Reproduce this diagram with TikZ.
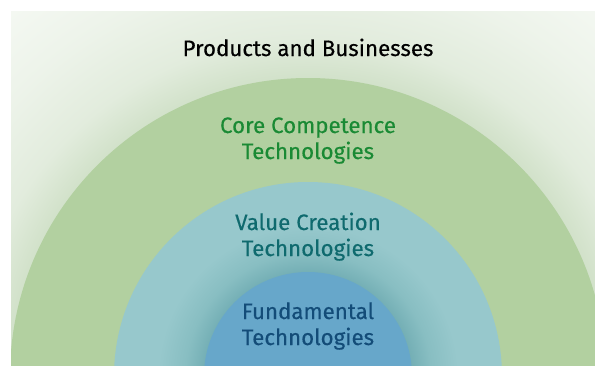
\documentclass[tikz,border=0pt]{standalone}
\usepackage{fontspec}
\setmainfont{Fira Sans}[FakeBold=0.3]
\definecolor{bglight}{HTML}{F4F8F2}
\definecolor{bgmid}{HTML}{E2ECDD}
\definecolor{bgdark}{HTML}{D1E1C9}
\definecolor{outergreen}{HTML}{B2D0A0}
\definecolor{lightblue}{HTML}{97C8CC}
\definecolor{tealhalo}{HTML}{74AFB5}
\definecolor{tealmid}{HTML}{88BEC2}
\definecolor{darkblue}{HTML}{67A7CA}
\definecolor{txtgreen}{HTML}{1A8A34}
\definecolor{txtteal}{HTML}{0F6A6E}
\definecolor{txtnavy}{HTML}{134C78}
\pgfdeclareradialshading{bghalo}{\pgfpoint{0bp}{0bp}}{%
  color(0bp)=(bgdark); color(15.8bp)=(bgdark); color(18bp)=(bgmid);
  color(21.5bp)=(bglight!60!bgmid); color(25bp)=(bglight); color(50bp)=(bglight)}
\pgfdeclareradialshading{bluehalo}{\pgfpoint{0bp}{0bp}}{%
  color(0bp)=(tealhalo); color(17.3bp)=(tealhalo); color(20.5bp)=(tealmid);
  color(25bp)=(lightblue); color(50bp)=(lightblue)}
\tikzset{
  lbl/.style={anchor=base, inner sep=0pt, font=\fontsize{22.3}{27}\selectfont},
}
\begin{document}
\begin{tikzpicture}[x=1pt, y=-1pt]
  \useasboundingbox (0,0) rectangle (595,365);
  \fill[white] (0,0) rectangle (595,365);
  \coordinate (c) at (308,376);
  \begin{scope}
    \clip (11,11) rectangle (595,365);
    \fill[bglight] (11,11) rectangle (595,365);
    \shade[shading=bghalo] (c) circle (470pt);
    \fill[outergreen] (c) circle (298pt);
    \fill[lightblue] (c) circle (194pt);
    \shade[shading=bluehalo] (c) circle (150pt);
    \fill[darkblue] (c) circle (104pt);
  \end{scope}
  \node[lbl, text=black] (prod) at (308,56) {Products and Businesses};
  \node[lbl, text=txtgreen] (core1) at (308,133) {Core Competence};
  \node[lbl, text=txtgreen] (core2) at (308,159) {Technologies};
  \node[lbl, text=txtteal] (val1) at (308,230) {Value Creation};
  \node[lbl, text=txtteal] (val2) at (308,256) {Technologies};
  \node[lbl, text=txtnavy] (fun1) at (308,319) {Fundamental};
  \node[lbl, text=txtnavy] (fun2) at (308,345) {Technologies};
\end{tikzpicture}
\end{document}
